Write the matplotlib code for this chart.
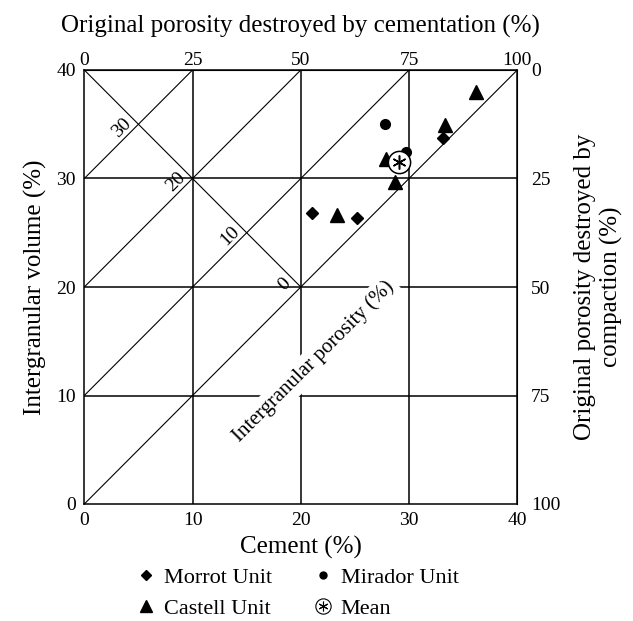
import matplotlib
matplotlib.use("Agg")

import matplotlib.pyplot as plt
from matplotlib.lines import Line2D

plt.rcParams["font.family"] = ["Liberation Serif", "DejaVu Serif"]

# ── Data ─────────────────────────────────────────────────────── #
morrot_cement = [21.0, 25.15, 33.1]
morrot_igv    = [26.85, 26.4, 33.7]

castell_cement = [23.3, 28.7, 27.9, 33.3, 36.2]
castell_igv    = [26.6, 29.7, 31.8, 34.9, 38.0]

mirador_cement = [27.8, 29.7]
mirador_igv    = [35.0, 32.4]

mean_cement = [29.1]
mean_igv    = [31.5]

grid_vals     = [10, 20, 30]
diag_offsets  = [0, 10, 20, 30]          # IGV = cement + offset
porosity_lbls = [30, 20, 10, 0]          # labels along the anti-diagonal
top_ticks     = [0, 25, 50, 75, 100]
right_ticks   = [0, 25, 50, 75, 100]

INK = "black"

fig = plt.figure(figsize=(6.33, 6.21), dpi=100)
ax = fig.add_axes([84.3 / 633, 1 - 504 / 621, 433 / 633, 434 / 621])
ax.set_xlim(0, 40)
ax.set_ylim(0, 40)

# grid
for v in grid_vals:
    ax.axvline(v, color=INK, lw=1.1, zorder=1)
    ax.axhline(v, color=INK, lw=1.1, zorder=1)

# diagonal lines of constant intergranular porosity
for c in diag_offsets:
    ax.plot([0, 40 - c], [c, 40], color=INK, lw=0.8, zorder=1)

# anti-diagonal (porosity scale)
ax.plot([0, 20], [40, 20], color=INK, lw=0.8, zorder=1)
for p in porosity_lbls:
    # intersection of y = 40 - x with y = x + p
    ix = (40 - p) / 2.0
    iy = 40 - ix
    ax.text(ix - 1.5, iy - 0.3 + (0.5 if p == 0 else 0), str(p), fontsize=14,
            rotation=45, ha="center", va="center", zorder=2)

ax.text(21.2, 13.1, "Intergranular porosity (%)", fontsize=15, rotation=45,
        ha="center", va="center", zorder=2,
        bbox=dict(facecolor="white", edgecolor="none", pad=3))

# data points
ax.plot(morrot_cement, morrot_igv, ls="none", marker="D", ms=6.2, color=INK, zorder=4)
ax.plot(castell_cement, castell_igv, ls="none", marker="^", ms=9.5, color=INK, zorder=4)
ax.plot(mirador_cement, mirador_igv, ls="none", marker="o", ms=7, color=INK, zorder=4)
ax.plot(mean_cement, mean_igv, ls="none", marker="o", ms=16, mfc="white",
        mec=INK, mew=1.1, zorder=5)
ax.plot(mean_cement, mean_igv, ls="none", marker=(6, 2, 0), ms=10, color=INK,
        mew=1.1, zorder=6)

# axes
for s in ax.spines.values():
    s.set_linewidth(1.1)
ax.set_xticks([0, 10, 20, 30, 40])
ax.set_yticks([0, 10, 20, 30, 40])
ax.tick_params(length=0, labelsize=14, pad=6)
ax.set_xlabel("Cement (%)", fontsize=18, labelpad=5)
ax.set_ylabel("Intergranular volume (%)", fontsize=18, labelpad=7)

sec_top = ax.secondary_xaxis("top", functions=(lambda x: x * 2.5, lambda p: p / 2.5))
sec_top.set_xticks(top_ticks)
sec_top.tick_params(length=0, labelsize=14, pad=1)
sec_top.set_xlabel("Original porosity destroyed by cementation (%)", fontsize=18,
                   labelpad=14)

sec_right = ax.secondary_yaxis("right", functions=(lambda y: (40 - y) * 2.5,
                                                   lambda p: 40 - p / 2.5))
sec_right.set_yticks(right_ticks)
sec_right.tick_params(length=0, labelsize=14, pad=10)
sec_right.set_ylabel("Original porosity destroyed by\ncompaction (%)", fontsize=18,
                     labelpad=10)

# legend
h_morrot = Line2D([], [], ls="none", marker="D", ms=5, color=INK)
h_castell = Line2D([], [], ls="none", marker="^", ms=8, color=INK)
h_mirador = Line2D([], [], ls="none", marker="o", ms=5, color=INK)
h_circ = Line2D([], [], ls="none", marker="o", ms=11, mfc="white", mec=INK, mew=0.8)
h_star = Line2D([], [], ls="none", marker=(6, 2, 0), ms=7, color=INK, mew=0.8)
fig.legend([h_morrot, h_castell, h_mirador, (h_circ, h_star)],
           ["Morrot Unit", "Castell Unit", "Mirador Unit", "Mean"],
           loc="center", bbox_to_anchor=(298 / 633, 1 - 593 / 621), ncol=2,
           frameon=False, fontsize=16, handlelength=0.8, handletextpad=0.4,
           columnspacing=1.9, labelspacing=0.45, borderpad=0)

fig.savefig("out.png", dpi=100, facecolor="white")
